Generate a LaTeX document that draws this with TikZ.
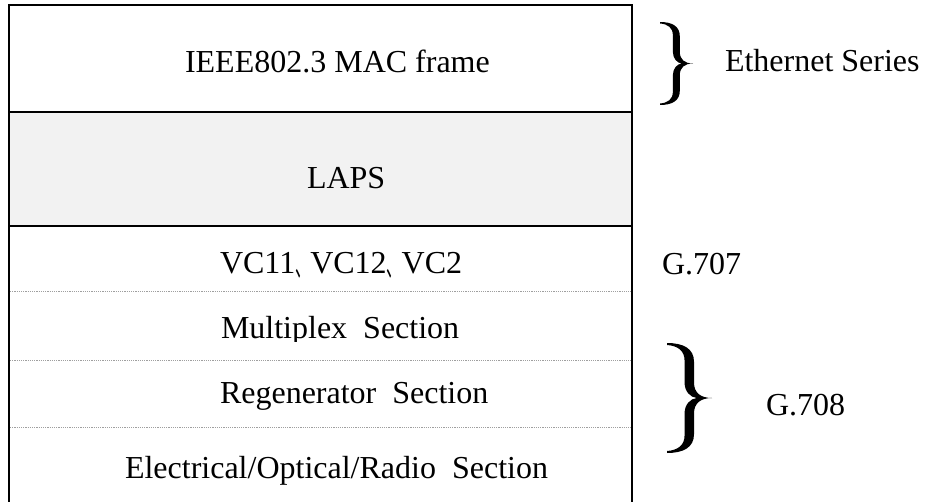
\documentclass[tikz,border=0pt]{standalone}
\usepackage{fontspec}
\setmainfont{Liberation Serif}
\newfontfamily\cjk{Noto Sans CJK SC}
\definecolor{lapsgray}{HTML}{F2F2F2}
\newcommand{\ideocomma}{\makebox[15pt][l]{\raisebox{-3.5pt}{\scalebox{0.47}[1]{\cjk 、}}}}
\tikzset{
  frameline/.style={line width=2pt, black, line join=miter},
  lapsframe/.style={line width=2.6pt, black, fill=lapsgray},
  sepline/.style={line width=0.9pt, gray!75, dash pattern=on 1.1pt off 1.1pt},
  lbl/.style={anchor=base west, inner sep=0pt, outer sep=0pt, font=\fontsize{32}{38}\selectfont},
  rbrace/.pic={
    \fill[black] (0,0)
      .. controls (0.36,0) and (0.60,0.05) .. (0.60,0.17)
      -- (0.60,0.36)
      .. controls (0.60,0.45) and (0.74,0.5) .. (1,0.5)
      .. controls (0.74,0.5) and (0.60,0.55) .. (0.60,0.64)
      -- (0.60,0.83)
      .. controls (0.60,0.95) and (0.36,1) .. (0,1)
      -- (0,0.982)
      .. controls (0.24,0.975) and (0.39,0.93) .. (0.39,0.84)
      -- (0.39,0.64)
      .. controls (0.39,0.56) and (0.52,0.505) .. (0.66,0.5)
      .. controls (0.52,0.495) and (0.39,0.44) .. (0.39,0.36)
      -- (0.39,0.16)
      .. controls (0.39,0.07) and (0.24,0.025) .. (0,0.018)
      -- cycle;
  },
}
\begin{document}
\begin{tikzpicture}[x=1pt,y=-1pt]
\useasboundingbox (0,0) rectangle (925,502);
% frame
\coordinate (bl) at (9,502);
\coordinate (tl) at (9,5);
\coordinate (tr) at (632,5);
\coordinate (br) at (632,502);
\draw[frameline] (bl) -- (tl) -- (tr) -- (br);
% LAPS layer
\filldraw[lapsframe] (9,112) rectangle (632,226);
% dotted separators
\draw[sepline] (10,291) -- (631,291);
\draw[sepline] (10,360) -- (631,360);
\draw[sepline] (10,427) -- (631,427);
% layer labels
\node[lbl] (mac) at (185,73) {IEEE802.3 MAC frame};
\node[lbl] (laps) at (307,189) {LAPS};
\node[lbl] (vc) at (220,273) {VC11\ideocomma VC12\ideocomma VC2};
\begin{scope}
  \clip (9,292) rectangle (632,341);
  \node[lbl] (ms) at (221,338) {Multiplex\ \ Section};
\end{scope}
\node[lbl] (rs) at (220,403) {Regenerator\ \ Section};
\node[lbl] (eor) at (125,478) {Electrical/Optical/Radio\ \ Section};
% right-hand labels
\pic at (660,22) [xscale=33, yscale=83] {rbrace};
\node[lbl] (eth) at (725,72) {Ethernet Series};
\node[lbl] (g707) at (662,275) {G.707};
\pic at (667,343) [xscale=45, yscale=110] {rbrace};
\node[lbl] (g708) at (766,415) {G.708};
\end{tikzpicture}
\end{document}
